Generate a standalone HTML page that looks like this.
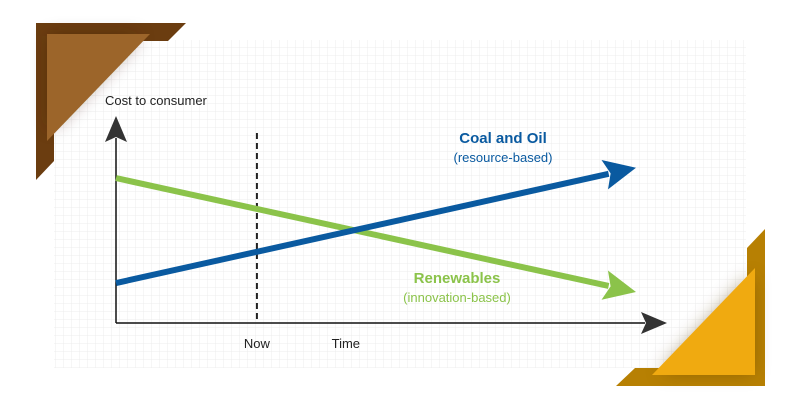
<!DOCTYPE html>
<html><head><meta charset="utf-8"><style>
html,body{margin:0;padding:0;background:#fff;}
body{width:801px;height:412px;overflow:hidden;font-family:"Liberation Sans",sans-serif;}
</style></head><body>
<svg width="801" height="412" viewBox="0 0 801 412">
<defs>
<pattern id="grid" width="8" height="8" patternUnits="userSpaceOnUse"><path d="M8 0V8H0" fill="none" stroke="#ececec" stroke-width="1"/></pattern>
<filter id="sh" x="-50%" y="-50%" width="200%" height="200%"><feGaussianBlur stdDeviation="9"/></filter>
<radialGradient id="fade" cx="50%" cy="50%" r="50%"><stop offset="0.8" stop-color="#fff" stop-opacity="1"/><stop offset="1" stop-color="#fff" stop-opacity="0"/></radialGradient>
</defs>
<rect x="54" y="40" width="692" height="328" fill="url(#grid)"/>
<g>
<polygon points="36,23 186,23 168,41 54,41 54,161 36,180" fill="#6b3d10"/>
<polygon points="50,36 140,36 50,130" fill="#3a1f05" opacity="0.5" filter="url(#sh)"/>
<polygon points="47,34 150,34 47,141" fill="#9c652a"/>
</g>
<g>
<polygon points="765,229 765,386 616,386 635,368 747,368 747,248" fill="#b78003"/>
<polygon points="752,275 752,372 660,372" fill="#5a3b00" opacity="0.5" filter="url(#sh)"/>
<polygon points="755,268 755,375 652,375" fill="#f0aa10"/>
</g>
<g id="chart"></g>
</svg>
<script>
const timeLabels=["Now","Time"];
const timeValues=[27.1,44.2];
const seriesNames=["Coal and Oil","Renewables"];
const seriesSub=["(resource-based)","(innovation-based)"];
const coalValues=[19.3,75];
const renewValues=[70,15];
const nowValue=27.1;
const colors=["#0a5aa0","#8bc34a"];
const X0=116,X1=636,Y0=323,YT=116;
const xs=v=>X0+(X1-X0)*v/100;
const ys=v=>Y0-(Y0-YT)*v/100;
const NS="http://www.w3.org/2000/svg";
const g=document.getElementById('chart');
function mk(t,a){const e=document.createElementNS(NS,t);for(const k in a)e.setAttribute(k,a[k]);g.appendChild(e);return e;}
// axes
let ya=mk('line',{x1:X0,y1:Y0,x2:X0,y2:138,stroke:'#111','stroke-width':1.5});


let yh=mk('polygon',{points:`${X0},116 ${X0-11},142 ${X0},137 ${X0+11},142`,fill:'#333'});


let xa=mk('line',{x1:X0,y1:Y0,x2:645,y2:Y0,stroke:'#111','stroke-width':1.5});


let xh=mk('polygon',{points:`667,${Y0} 641,${Y0-11} 646,${Y0} 641,${Y0+11}`,fill:'#333'});


let yt=mk('text',{x:105,y:105,'font-size':13,fill:'#222'});yt.textContent='Cost to consumer';


let dl=mk('line',{x1:xs(nowValue),y1:133,x2:xs(nowValue),y2:Y0,stroke:'#222','stroke-width':2,'stroke-dasharray':'6,4'});


timeLabels.forEach((t,i)=>{let e=mk('text',{x:xs(timeValues[i]),y:348,'font-size':13,fill:'#222','text-anchor':'middle'});e.textContent=t;

});
function arrow(vals,col,name){
 const x1=xs(0),y1=ys(vals[0]),x2=xs(100),y2=ys(vals[1]);
 const dx=x2-x1,dy=y2-y1,L=Math.hypot(dx,dy),ux=dx/L,uy=dy/L,px=-uy,py=ux;
 const hl=32,hw=15,bx=x2-ux*hl,by=y2-uy*hl;
 let l=mk('line',{x1:x1,y1:y1,x2:bx+ux*4,y2:by+uy*4,stroke:col,'stroke-width':6});
 
 
 let h=mk('polygon',{points:`${x2},${y2} ${bx+px*hw},${by+py*hw} ${bx+ux*6},${by+uy*6} ${bx-px*hw},${by-py*hw}`,fill:col});
 
 
}
arrow(renewValues,colors[1],'renewables');
arrow(coalValues,colors[0],'coal-oil');
const lab=[[503,143,162],[457,283,302]];
seriesNames.forEach((n,i)=>{
 let t=mk('text',{x:lab[i][0],y:lab[i][1],'font-size':15,'font-weight':'bold',fill:colors[i],'text-anchor':'middle'});t.textContent=n;
 
 
 let s=mk('text',{x:lab[i][0],y:lab[i][2],'font-size':13,fill:colors[i],'text-anchor':'middle'});s.textContent=seriesSub[i];
 
 
});
</script>
</body></html>
